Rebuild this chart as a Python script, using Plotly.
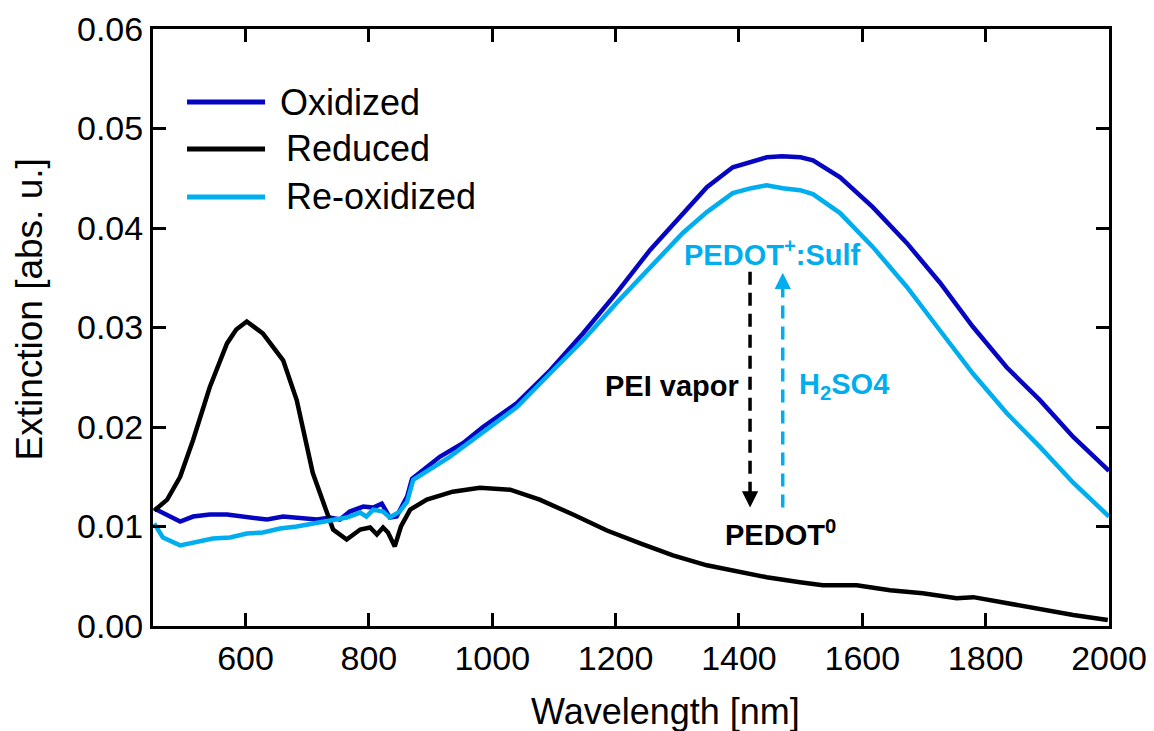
import plotly.graph_objects as go

# ---------------- data ----------------
ox_wl = [452, 473, 494, 515, 542, 570, 602, 635, 661, 688, 716, 737, 753, 769, 791, 807, 821, 834, 845,
         855, 862, 870, 880, 915, 953, 985, 1040, 1094, 1147, 1202, 1256, 1309, 1348, 1390, 1420, 1445,
         1470, 1500, 1520, 1564, 1617, 1672, 1726, 1779, 1834, 1888, 1942, 2000]
ox_ext = [0.0118, 0.0112, 0.0105, 0.0110, 0.0112, 0.0112, 0.0109, 0.0107, 0.0110, 0.0109, 0.0107, 0.0109,
          0.0107, 0.0115, 0.0120, 0.0119, 0.0123, 0.0109, 0.0110, 0.0122, 0.0130, 0.0148, 0.0153, 0.0170,
          0.0184, 0.0200, 0.0224, 0.0257, 0.0294, 0.0335, 0.0378, 0.0415, 0.0441, 0.0461, 0.0467, 0.0471,
          0.0472, 0.0471, 0.0468, 0.0451, 0.0421, 0.0385, 0.0345, 0.0301, 0.0260, 0.0227, 0.0190, 0.0156]

red_wl = [452, 473, 494, 515, 542, 570, 585, 602, 628, 661, 683, 709, 732, 742, 764, 786, 802, 813, 823,
          831, 842, 852, 867, 894, 936, 980, 1029, 1077, 1131, 1186, 1240, 1293, 1348, 1402, 1445, 1499,
          1536, 1591, 1645, 1698, 1753, 1780, 1834, 1888, 1942, 1998]
red_ext = [0.0116, 0.0127, 0.0150, 0.0187, 0.0240, 0.0284, 0.0298, 0.0306, 0.0294, 0.0267, 0.0227, 0.0154,
           0.0114, 0.0097, 0.0087, 0.0097, 0.0099, 0.0092, 0.0099, 0.0094, 0.0080, 0.0100, 0.0117, 0.0127,
           0.0135, 0.0139, 0.0137, 0.0127, 0.0112, 0.0096, 0.0083, 0.0071, 0.0061, 0.0054, 0.0049, 0.0044,
           0.0041, 0.0041, 0.0036, 0.0033, 0.0028, 0.0029, 0.0023, 0.0018, 0.0011, 0.0006]

reox_wl = [452, 466, 494, 521, 547, 575, 602, 628, 656, 683, 709, 737, 764, 786, 796, 807, 823, 834, 850,
           862, 872, 931, 985, 1040, 1094, 1147, 1202, 1256, 1309, 1348, 1390, 1420, 1445, 1471, 1499,
           1520, 1564, 1617, 1672, 1726, 1779, 1834, 1888, 1942, 2000]
reox_ext = [0.0103, 0.0089, 0.0081, 0.0084, 0.0088, 0.0089, 0.0093, 0.0094, 0.0098, 0.0100, 0.0103, 0.0106,
            0.0109, 0.0114, 0.0110, 0.0117, 0.0115, 0.0109, 0.0115, 0.0125, 0.0147, 0.0170, 0.0195, 0.0220,
            0.0254, 0.0287, 0.0325, 0.0360, 0.0395, 0.0416, 0.0435, 0.0440, 0.0443, 0.0440, 0.0438, 0.0434,
            0.0415, 0.0381, 0.0341, 0.0297, 0.0254, 0.0214, 0.0180, 0.0144, 0.0110]

series_names = ["Oxidized", "Reduced", "Re-oxidized"]
x_ticks = [600, 800, 1000, 1200, 1400, 1600, 1800, 2000]
y_ticks = [0.00, 0.01, 0.02, 0.03, 0.04, 0.05, 0.06]

# transition arrows (wavelength, start extinction, end extinction)
arrow_down = (1418, 0.0356, 0.0119)
arrow_up = (1471, 0.0119, 0.0355)

C_OX = "#0606C2"
C_RED = "#000000"
C_REOX = "#00AEEF"
FONT = "Liberation Sans, Arial, sans-serif"
LW = 4.5

fig = go.Figure()
for wl, ext, name, col in [(ox_wl, ox_ext, series_names[0], C_OX),
                           (red_wl, red_ext, series_names[1], C_RED),
                           (reox_wl, reox_ext, series_names[2], C_REOX)]:
    fig.add_trace(go.Scatter(x=wl, y=ext, mode="lines", name=name,
                             line=dict(color=col, width=LW), showlegend=False))

# ---------------- manual legend ----------------
leg = [(series_names[0], C_OX, 0.8777, 0.1308),
       (series_names[1], C_RED, 0.7990, 0.1370),
       (series_names[2], C_REOX, 0.7186, 0.1370)]
shapes = []
annotations = []
for name, col, yy, tx in leg:
    shapes.append(dict(type="line", xref="paper", yref="paper", x0=0.0356, x1=0.1172, y0=yy, y1=yy,
                       line=dict(color=col, width=5)))
    annotations.append(dict(xref="paper", yref="paper", x=tx, y=yy, text=name, showarrow=False,
                            xanchor="left", yanchor="middle", font=dict(family=FONT, size=36, color="black")))

# ---------------- dashed arrows ----------------
head = 0.0009
x, y0, y1 = arrow_down
shapes.append(dict(type="line", xref="x", yref="y", x0=x, x1=x, y0=y0, y1=y1 + head,
                   line=dict(color="black", width=3.5, dash="13px,8px")))
annotations.append(dict(x=x, y=y1, ax=x, ay=y1 + head, axref="x", ayref="y", xref="x", yref="y",
                        text="", showarrow=True, arrowhead=2, arrowsize=1.3, arrowwidth=2.5, arrowcolor="black"))
x, y0, y1 = arrow_up
shapes.append(dict(type="line", xref="x", yref="y", x0=x, x1=x, y0=y0, y1=y1 - head,
                   line=dict(color=C_REOX, width=3.5, dash="13px,8px")))
annotations.append(dict(x=x, y=y1, ax=x, ay=y1 - head, axref="x", ayref="y", xref="x", yref="y",
                        text="", showarrow=True, arrowhead=2, arrowsize=1.3, arrowwidth=2.5, arrowcolor=C_REOX))

# ---------------- text labels ----------------
labels = [("<b>PEDOT<sup>+</sup>:Sulf</b>", 1455, 0.0375, C_REOX),
          ("<b>PEI vapor</b>", 1291, 0.0241, "black"),
          ("<b>H<sub>2</sub>SO4</b>", 1571, 0.0241, C_REOX),
          ("<b>PEDOT<sup>0</sup></b>", 1467, 0.0093, "black")]
for t, xx, yy, col in labels:
    annotations.append(dict(x=xx, y=yy, xref="x", yref="y", text=t, showarrow=False,
                            xanchor="center", yanchor="middle", font=dict(family=FONT, size=29, color=col)))

# axis titles
annotations.append(dict(xref="paper", yref="paper", x=0.5356, y=-0.144, text="Wavelength [nm]",
                        showarrow=False, xanchor="center", yanchor="middle",
                        font=dict(family=FONT, size=36, color="black")))
annotations.append(dict(xref="paper", yref="paper", x=-0.1287, y=0.53, text="Extinction [abs. u.]",
                        showarrow=False, xanchor="center", yanchor="middle", textangle=-90,
                        font=dict(family=FONT, size=37, color="black")))

axis_common = dict(showline=True, linecolor="black", linewidth=3, mirror="ticks",
                   ticks="inside", ticklen=13, tickwidth=2.5, tickcolor="black",
                   showgrid=False, zeroline=False,
                   tickfont=dict(family=FONT, size=34, color="black"))

fig.update_layout(
    width=1154, height=731,
    margin=dict(l=153, r=45, t=29, b=105, autoexpand=False),
    paper_bgcolor="white", plot_bgcolor="white",
    xaxis=dict(range=[450, 2000], tickvals=x_ticks, ticktext=[str(v) for v in x_ticks], **axis_common),
    yaxis=dict(range=[0, 0.06], tickvals=y_ticks, ticktext=[f"{v:.2f}" for v in y_ticks], **axis_common),
    shapes=shapes, annotations=annotations,
    showlegend=False,
)

fig.write_html("out.html")
